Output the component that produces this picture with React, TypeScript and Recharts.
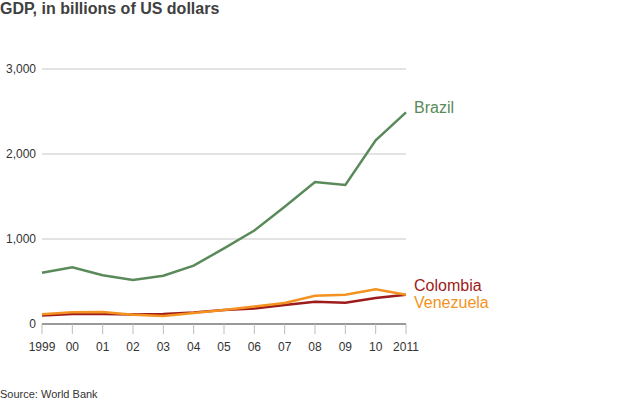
import React from "react";
import { LineChart, Line, XAxis, YAxis, CartesianGrid } from "recharts";

const years = ["1999", "00", "01", "02", "03", "04", "05", "06", "07", "08", "09", "10", "2011"];
const brazil = [604, 667, 573, 518, 568, 686, 890, 1100, 1380, 1670, 1635, 2160, 2490];
const colombia = [100, 118, 118, 112, 118, 135, 165, 182, 224, 262, 251, 306, 345];
const venezuela = [114, 137, 140, 110, 94, 130, 165, 205, 247, 333, 345, 408, 345];
const yTicks = [0, 1000, 2000, 3000];

const data = years.map((y, i) => ({
  year: y,
  Brazil: brazil[i],
  Colombia: colombia[i],
  Venezuela: venezuela[i],
}));

const FONT = "'Liberation Sans', Arial, Helvetica, sans-serif";

const endLabel = (name: string, color: string, dy: number) => (props: any) => {
  const { x, y, index } = props;
  if (index !== years.length - 1) return null;
  return (
    <text x={x + 8} y={y + dy} fill={color} fontSize={16} fontFamily={FONT} dominantBaseline="middle">
      {name}
    </text>
  );
};

export default function App() {
  return (
    <div style={{ position: "absolute", left: 0, top: 0, width: 624, height: 406, background: "#fff", fontFamily: FONT }}>
      <div style={{ position: "absolute", left: 0, top: 0, fontSize: 16, fontWeight: "bold", color: "#404040", lineHeight: "18px" }}>
        GDP, in billions of US dollars
      </div>
      <LineChart width={624} height={406} data={data} margin={{ top: 69, right: 218, bottom: 52, left: 0 }}>
        <CartesianGrid horizontal vertical={false} stroke="#c8c8c8" strokeWidth={1} />
        <XAxis
          dataKey="year"
          interval={0}
          height={30}
          axisLine={{ stroke: "#999", strokeWidth: 2 }}
          tickLine={{ stroke: "#bbb" }}
          tickSize={10}
          tickMargin={8}
          tick={{ fill: "#333", fontSize: 12, fontFamily: FONT }}
        />
        <YAxis
          domain={[0, 3000]}
          ticks={yTicks}
          width={42}
          axisLine={false}
          tickLine={false}
          tickSize={4}
          tickMargin={2}
          tickFormatter={(v: number) => v.toLocaleString("en-US")}
          tick={{ fill: "#333", fontSize: 12, fontFamily: FONT }}
        />
        <Line dataKey="Brazil" stroke="#5b8a5a" strokeWidth={2.5} dot={false} isAnimationActive={false} label={endLabel("Brazil", "#5b8a5a", -4)} />
        <Line dataKey="Colombia" stroke="#9e1b1b" strokeWidth={2.5} dot={false} isAnimationActive={false} label={endLabel("Colombia", "#9e1b1b", -8)} />
        <Line dataKey="Venezuela" stroke="#f39220" strokeWidth={2.5} dot={false} isAnimationActive={false} label={endLabel("Venezuela", "#f39220", 9)} />
      </LineChart>
      <div style={{ position: "absolute", left: 0, top: 388, fontSize: 11, color: "#333", lineHeight: "13px" }}>
        Source: World Bank
      </div>
    </div>
  );
}
